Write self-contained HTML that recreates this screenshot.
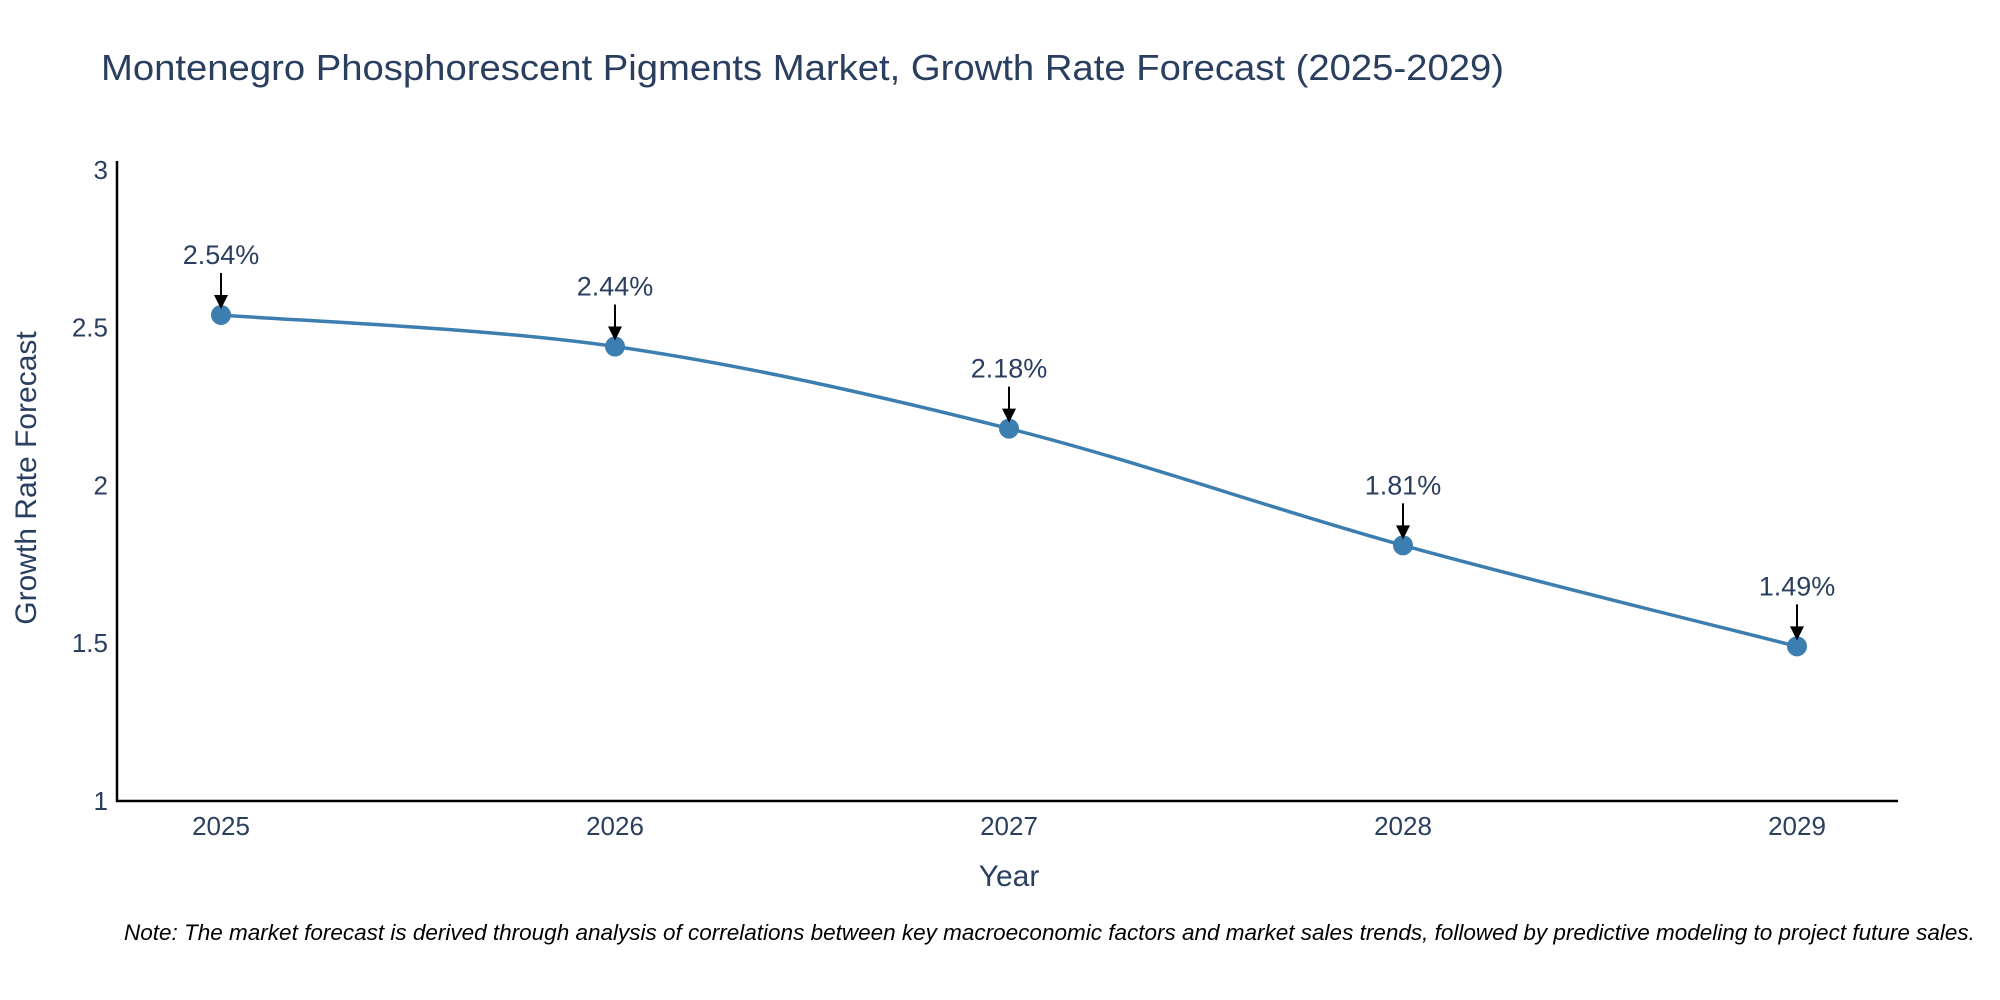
<!DOCTYPE html>
<html><head><meta charset="utf-8"><style>
html,body{margin:0;padding:0;background:#fff;}
svg{display:block;font-family:"Liberation Sans",sans-serif;}
</style></head><body>
<svg id="chart" width="2000" height="1000">
<text x="101" y="80" font-size="36" fill="#2a3f5f" textLength="1403" lengthAdjust="spacingAndGlyphs">Montenegro Phosphorescent Pigments Market, Growth Rate Forecast (2025-2029)</text>
<g id="yticks"></g>
<g id="xticks"></g>
<line x1="117" y1="161" x2="117" y2="802" stroke="#000" stroke-width="2.5"/>
<line x1="116" y1="801" x2="1898" y2="801" stroke="#000" stroke-width="2.5"/>
<text x="0" y="0" transform="translate(36,478) rotate(-90)" text-anchor="middle" font-size="30" fill="#2a3f5f">Growth Rate Forecast</text>
<text x="1009" y="886" text-anchor="middle" font-size="30" fill="#2a3f5f">Year</text>
<g id="series"></g>
<g id="ann"></g>
<text x="124" y="940" font-size="22.5" font-style="italic" fill="#000">Note: The market forecast is derived through analysis of correlations between key macroeconomic factors and market sales trends, followed by predictive modeling to project future sales.</text>
</svg>
<script>
const categories = ["2025","2026","2027","2028","2029"];
const values = [2.54, 2.44, 2.18, 1.81, 1.49];
const valueLabels = ["2.54%","2.44%","2.18%","1.81%","1.49%"];
const yTicks = [1, 1.5, 2, 2.5, 3];
const yTickLabels = ["1","1.5","2","2.5","3"];

const NS = "http://www.w3.org/2000/svg";
const x0 = 221, xStep = 394;
function xs(i){ return x0 + i * xStep; }
function ys(v){ return 801 - (v - 1) * 315.6; }
function mk(tag, attrs, parent){ const e = document.createElementNS(NS, tag); for (const k in attrs) e.setAttribute(k, attrs[k]); parent.appendChild(e); return e; }

const yg = document.getElementById('yticks');
yTicks.forEach((t, i) => {
  const tx = mk('text', {x: 108, y: ys(t) + 9, 'text-anchor': 'end', 'font-size': 26, fill: '#2a3f5f'}, yg);
  
  
  tx.textContent = yTickLabels[i];
});
const xg = document.getElementById('xticks');
categories.forEach((c, i) => {
  const tx = mk('text', {x: xs(i), y: 835, 'text-anchor': 'middle', 'font-size': 26, fill: '#2a3f5f'}, xg);
  
  
  tx.textContent = c;
});

const sg = document.getElementById('series');
const pts = values.map((v, i) => [xs(i), ys(v)]);
let d = `M${pts[0][0]},${pts[0][1]}`;
const s = 0.5 / 3;
for (let i = 0; i < pts.length - 1; i++) {
  const p0 = pts[Math.max(0, i - 1)], p1 = pts[i], p2 = pts[i + 1], p3 = pts[Math.min(pts.length - 1, i + 2)];
  const c1 = [p1[0] + (p2[0] - p0[0]) * s, p1[1] + (p2[1] - p0[1]) * s];
  const c2 = [p2[0] - (p3[0] - p1[0]) * s, p2[1] - (p3[1] - p1[1]) * s];
  d += ` C${c1[0]},${c1[1]} ${c2[0]},${c2[1]} ${p2[0]},${p2[1]}`;
}
const line = mk('path', {d: d, fill: 'none', stroke: '#3d7eb0', 'stroke-width': 3.5}, sg);


pts.forEach(p => {
  const c = mk('circle', {cx: p[0], cy: p[1], r: 10, fill: '#3d7eb0'}, sg);
  
  
});

const ag = document.getElementById('ann');
pts.forEach((p, i) => {
  const t = mk('text', {x: p[0], y: p[1] - 51, 'text-anchor': 'middle', 'font-size': 27, fill: '#2a3f5f'}, ag);
  
  
  t.textContent = valueLabels[i];
  const l = mk('line', {x1: p[0], y1: p[1] - 42, x2: p[0], y2: p[1] - 18, stroke: '#000', 'stroke-width': 2}, ag);
  
  
  const h = mk('path', {d: `M${p[0]-7},${p[1]-20} L${p[0]+7},${p[1]-20} L${p[0]},${p[1]-6} Z`, fill: '#000'}, ag);
  
  
});
</script>
</body></html>
